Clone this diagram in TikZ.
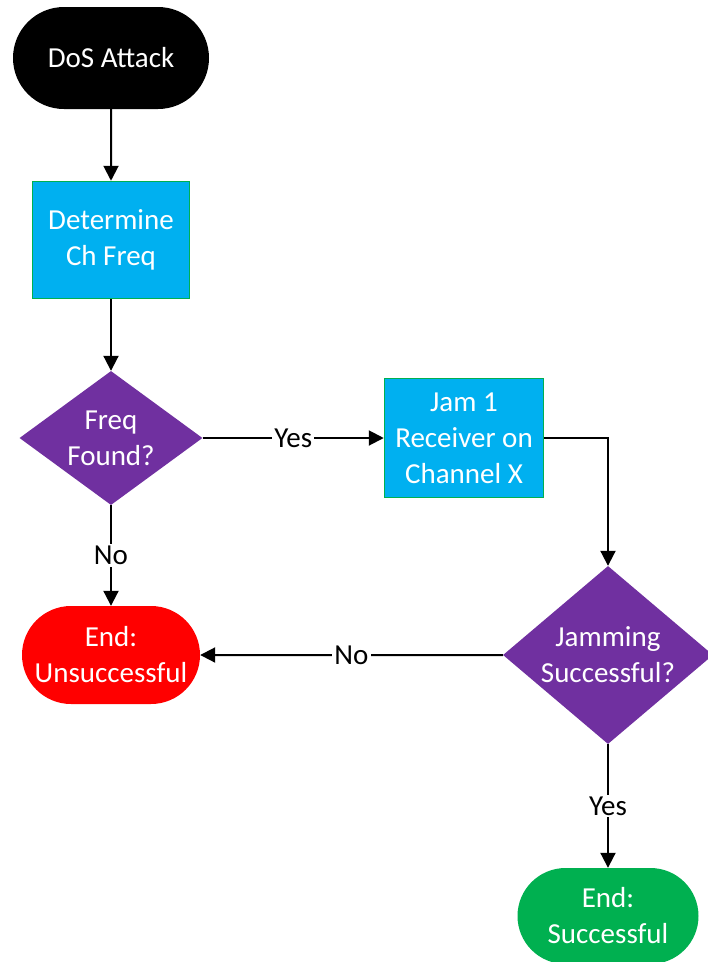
\documentclass[tikz,border=0pt]{standalone}
\usepackage{fontspec}
\setmainfont{Carlito}
\usepackage{tikz}
\usetikzlibrary{arrows.meta}
\usetikzlibrary{shapes.geometric}
\usetikzlibrary{shapes.misc}
\definecolor{dosblue}{HTML}{00B0F0}
\definecolor{dosgreen}{HTML}{00B050}
\definecolor{dospurple}{HTML}{7030A0}
\definecolor{dosred}{HTML}{FF0000}
\tikzstyle{termnode}=[white,shape=rounded rectangle,align=center,inner sep=0pt]
\tikzstyle{procnode}=[white,draw=dosgreen,line width=1.5pt,fill=dosblue,shape=rectangle,align=center,inner sep=0pt]
\tikzstyle{decnode}=[white,fill=dospurple,shape=diamond,align=center,inner sep=-3pt]
\tikzstyle{flowarr}=[-{Triangle[length=15pt,width=15pt]},line width=2pt,color=black]
\tikzstyle{flowlbl}=[fill=white,text=black,inner sep=2pt]
\begin{document}
\begin{tikzpicture}[x=1pt, y=-1pt, font=\fontsize{29}{36}\selectfont]

	\useasboundingbox (0, 0) rectangle (708, 962);

	% Start and frequency search
	\node[termnode, fill=black, minimum width=196, minimum height=102] (dos) at (111, 58) {DoS Attack};
	\node[procnode, minimum width=157, minimum height=117] (detfreq) at (111, 240) {Determine\\Ch Freq};
	\node[decnode, aspect=1.37, minimum width=183, minimum height=134] (found) at (111, 438) {Freq\\Found?};

	% Jamming
	\node[procnode, minimum width=159, minimum height=119] (jam) at (464, 438) {Jam 1\\Receiver on\\Channel X};
	\node[decnode, aspect=1.18, minimum width=210, minimum height=178] (jamok) at (608, 655) {Jamming\\Successful?};

	% End states
	\node[termnode, fill=dosred, minimum width=178, minimum height=98] (fail) at (111, 655) {End:\\Unsuccessful};
	\node[termnode, fill=dosgreen, minimum width=181, minimum height=96] (win) at (608, 916) {End:\\Successful};

	\draw[flowarr] (dos) -- (detfreq);
	\draw[flowarr] (detfreq) -- (found);
	\draw[flowarr] (found) -- node[flowlbl] {Yes} (jam);
	\draw[flowarr] (found) -- node[flowlbl] {No} (fail);
	\draw[flowarr] (jam.east) -| (jamok.north);
	\draw[flowarr] (jamok) -- node[flowlbl] {No} (fail);
	\draw[flowarr] (jamok) -- node[flowlbl] {Yes} (win);

\end{tikzpicture}
\end{document}
